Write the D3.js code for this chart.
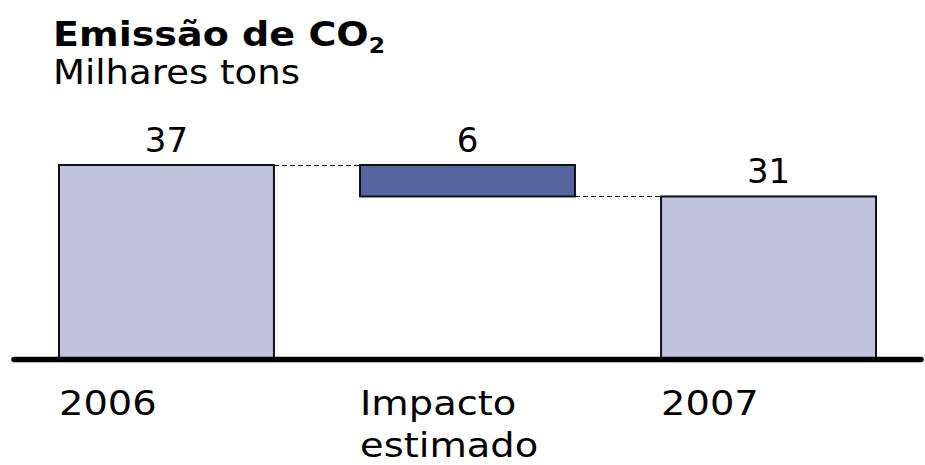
<!DOCTYPE html>
<html>
<head>
<meta charset="utf-8">
<script src="https://cdn.jsdelivr.net/npm/d3@7"></script>
<style>
  body { margin: 0; background: #fff; }
  svg { display: block; }
  text { font-family: "DejaVu Sans", Verdana, sans-serif; fill: #000; }
</style>
</head>
<body>
<script>
const categories = ["2006", "Impacto estimado", "2007"];
const startValues = [0, 31, 0];
const endValues = [37, 37, 31];
const valueLabels = ["37", "6", "31"];
const barKinds = ["total", "delta", "total"];
const titleText = "Emissão de CO";
const subtitleText = "Milhares tons";

const W = 925, H = 465;
const svg = d3.select("body").append("svg").attr("width", W).attr("height", H);

const x = d3.scaleBand().domain(categories).range([59, 876]).paddingInner(0.286).paddingOuter(0);
const y = d3.scaleLinear().domain([0, 37]).range([359, 165]);

const colors = { total: "#c0c3de", delta: "#5665a0" };

// connectors
for (let i = 0; i < categories.length - 1; i++) {
  const level = (i === 0) ? endValues[0] : startValues[1];
  svg.append("line")
    .attr("x1", x(categories[i]) + x.bandwidth())
    .attr("x2", x(categories[i + 1]))
    .attr("y1", y(level) + 0.5).attr("y2", y(level) + 0.5)
    .attr("stroke", "#000").attr("stroke-width", 1)
    .attr("stroke-dasharray", "5,3")
    .attr("shape-rendering", "crispEdges");
}

svg.selectAll("rect.bar").data(categories).join("rect")
  .attr("class", "bar")
  .attr("x", d => x(d))
  .attr("width", x.bandwidth())
  .attr("y", (d, i) => y(endValues[i]))
  .attr("height", (d, i) => y(startValues[i]) - y(endValues[i]))
  .attr("fill", (d, i) => colors[barKinds[i]])
  .attr("stroke", "#111").attr("stroke-width", 2);

// baseline
svg.append("line")
  .attr("x1", 14).attr("x2", 921)
  .attr("y1", y(0) + 0.5).attr("y2", y(0) + 0.5)
  .attr("stroke", "#000").attr("stroke-width", 5.5)
  .attr("stroke-linecap", "round");

// value labels
svg.selectAll("text.val").data(categories).join("text")
  .attr("class", "val")
  .attr("x", d => x(d) + x.bandwidth() / 2)
  .attr("y", (d, i) => y(endValues[i]) - 13)
  .attr("text-anchor", "middle")
  .style("font-size", "34px")
  .text((d, i) => valueLabels[i]);

// category labels
categories.forEach(c => {
  const words = c.split(" ");
  const t = svg.append("text")
    .attr("transform", `translate(${x(c) + 0},415) scale(1.13,1)`)
    .style("font-size", "34px");
  words.forEach((w, j) => {
    t.append("tspan").attr("x", 0).attr("dy", j === 0 ? 0 : 42).text(w);
  });
});

// title
const title = svg.append("text")
  .attr("transform", "translate(53,46) scale(1.12,1)")
  .style("font-size", "34px").style("font-weight", "bold")
  .text(titleText);
title.append("tspan").attr("dy", 7).style("font-size", "21px").text("2");

svg.append("text")
  .attr("transform", "translate(53,84) scale(1.09,1)")
  .style("font-size", "34px")
  .text(subtitleText);
</script>
</body>
</html>
